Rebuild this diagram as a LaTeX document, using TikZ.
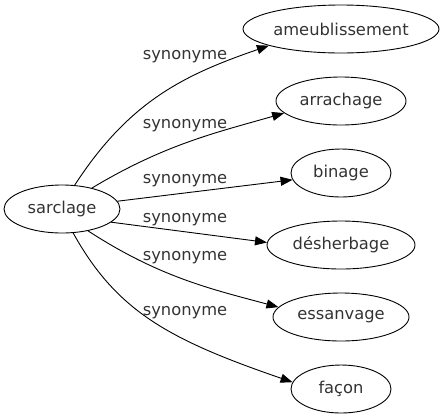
\documentclass[tikz,border=0pt]{standalone}
\usepackage{fontspec}
\setmainfont{DejaVu Sans}
\usetikzlibrary{shapes.geometric,arrows.meta}
\begin{document}
\begin{tikzpicture}[x=1bp,y=1bp,
  every node/.style={font=\fontsize{16.3bp}{20bp}\selectfont,text=black!80},
  term/.style={draw,ellipse,inner sep=0pt,minimum height=48bp,line width=0.9bp},
  rel/.style={anchor=base},
  edge/.style={line width=0.9bp,-{Triangle[length=12bp,width=9bp]}}]
\useasboundingbox (0,-419) rectangle (445,0);
\node[term,minimum width=116bp] (s) at (62,-209) {sarclage};
\node[term,minimum width=196bp] (n1) at (341,-29) {ameublissement};
\node[term,minimum width=130bp] (n2) at (341,-101) {arrachage};
\node[term,minimum width=100bp] (n3) at (341,-173) {binage};
\node[term,minimum width=148bp] (n4) at (341,-245) {désherbage};
\node[term,minimum width=136bp] (n5) at (341,-317) {essanvage};
\node[term,minimum width=100bp] (n6) at (341,-389) {façon};
\draw[edge] (s.62) .. controls +(57:100) and +(199:90) .. (n1.193);
\draw[edge] (s.35) .. controls +(31:85) and +(196:70) .. (n2.192);
\draw[edge] (s.8) -- (n3.188);
\draw[edge] (s.-15) -- (n4.178);
\draw[edge] (s.-40) .. controls +(-33:85) and +(165:70) .. (n5.171);
\draw[edge] (s.-65) .. controls +(-61:90) and +(161:130) .. (n6.172);
\node[rel] (l1) at (185,-59) {synonyme};
\node[rel] (l2) at (185,-128) {synonyme};
\node[rel] (l3) at (185,-183) {synonyme};
\node[rel] (l4) at (185,-222) {synonyme};
\node[rel] (l5) at (185,-260) {synonyme};
\node[rel] (l6) at (185,-315) {synonyme};
\end{tikzpicture}
\end{document}
